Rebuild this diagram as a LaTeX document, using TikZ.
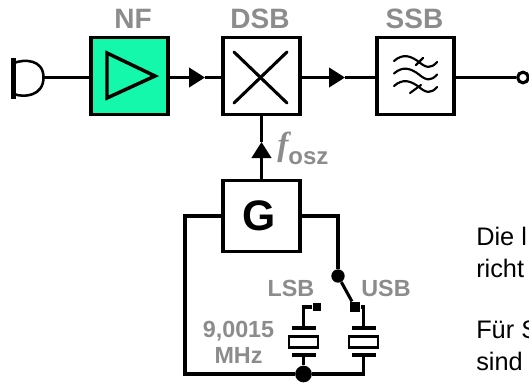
\documentclass[tikz,border=0pt]{standalone}
\usepackage{fontspec}
\setmainfont{Liberation Sans}
\newfontfamily\fserif{Liberation Serif}
\usetikzlibrary{arrows.meta, positioning}

\definecolor{nfgreen}{HTML}{14F8AC}
\definecolor{labelgray}{HTML}{8C8C8C}

\tikzset{
  wire/.style={line width=2.3pt},
  thinwire/.style={line width=1.9pt},
  headwire/.style={wire, -{Triangle[length=12pt, width=14.5pt]}},
  blockbox/.style={draw, line width=2.6pt, minimum width=57.5pt, minimum height=57.5pt, inner sep=0pt},
  grayfont/.style={text=labelgray, font=\bfseries\fontsize{21}{21}\selectfont, inner sep=0pt},
  smallgray/.style={text=labelgray, font=\bfseries\fontsize{17.5}{19.5}\selectfont, inner sep=0pt, align=center},
  bodytext/.style={font=\fontsize{19}{19}\selectfont, anchor=base west, inner sep=0pt},
  crystalbox/.style={draw, line width=1.9pt, minimum width=21.5pt, minimum height=8.5pt, inner sep=0pt},
  contact/.style={circle, fill, inner sep=0pt, minimum size=10pt},
  wave/.style={line width=1.6pt, line cap=round},
}

\begin{document}
\begin{tikzpicture}[x=0.75pt, y=-0.75pt]
  \useasboundingbox (0,0) rectangle (529,386);

  % Blocks of the upper chain
  \node[blockbox, fill=nfgreen] (nf) at (129.5,76) {};
  \node[blockbox] (dsb) at (261.5,76) {};
  \node[blockbox] (ssb) at (415.5,76) {};
  \node[blockbox, minimum height=53pt] (gen) at (261.5,216) {\hspace{-3pt}\bfseries\fontsize{32}{32}\selectfont G};

  \node[grayfont] (nflabel) at (133,19) {NF};
  \node[grayfont] (dsblabel) at (260,19) {DSB};
  \node[grayfont] (ssblabel) at (414.5,19) {SSB};

  % Microphone
  \coordinate (mic) at (43.5,77.5);
  \draw[line width=3.2pt] (13.5,58) -- (13.5,99);
  \draw[line width=1.9pt] (14,63) .. controls (24,59) and (43.5,59) .. (mic) .. controls (43.5,96) and (24,98) .. (14,94);
  \draw[thinwire] (mic) -- (mic -| nf.west);

  % Amplifier, mixer and filter symbols
  \draw[line width=2.6pt, line join=miter] (107,53) -- (155,76) -- (107,98) -- cycle;
  \draw[line width=2.3pt, line cap=round] (234,52) -- (287,103);
  \draw[line width=2.3pt, line cap=round] (234,103) -- (287,52);
  \foreach \dy in {0,12.5,25} {
    \draw[wave] (394,{61+\dy}) .. controls (403,{53+\dy}) and (411,{56+\dy}) .. (419,{62+\dy})
      .. controls (426,{68+\dy}) and (431,{69+\dy}) .. (437,{62+\dy});
  }
  \draw[wave] (416,65) -- (423,58);
  \draw[wave] (410,93) -- (421,85);

  % Connections of the chain
  \coordinate (tipa) at (205,77.5);
  \coordinate (tipb) at (345,77.5);
  \coordinate (tipc) at (261.5,142);
  \draw[headwire] (nf.east |- tipa) -- (tipa);
  \draw[wire] (tipa) -- (tipa -| dsb.west);
  \draw[headwire] (dsb.east |- tipb) -- (tipb);
  \draw[wire] (tipb) -- (tipb -| ssb.west);
  \draw[headwire] (gen.north) -- (tipc);
  \draw[wire] (tipc) -- (dsb.south);
  \node[circle, draw, line width=2.3pt, inner sep=0pt, minimum size=8pt] (out) at (523,77.5) {};
  \draw[wire] (ssb.east |- out) -- (out);

  \node[anchor=base west, inner sep=0pt, text=labelgray] (fosz) at (277,155) {\fserif\itshape\bfseries\fontsize{25}{25}\selectfont f\raisebox{-7pt}{\normalfont\bfseries\fontsize{18}{18}\selectfont osz}};

  % Crystals
  \node[crystalbox] (lsbxtal) at (303.5,342) {};
  \node[crystalbox] (usbxtal) at (363.5,342) {};
  \foreach \xname/\xx in {lsbtop/303.5, usbtop/363.5} {
    \coordinate (\xname) at (\xx,328);
    \draw[wire] (\xx-12,328) -- (\xx+12,328);
    \draw[wire] (\xx-12,355) -- (\xx+12,355);
  }

  % Switch and oscillator loop
  \node[contact] (swtop) at (338,276) {};
  \node[contact, rectangle, minimum size=8pt] (swusb) at (355,307) {};
  \node[rectangle, fill, inner sep=0pt, minimum size=6.5pt] (swlsb) at (317,307) {};
  \node[contact, minimum size=12.5pt] (junction) at (303.5,374) {};
  \coordinate (lsbbot) at (303.5,355);
  \coordinate (usbbot) at (363.5,355);

  \draw[wire] (gen.east) -| (swtop);
  \draw[wire] (gen.west) -- (185,216) |- (junction);
  \draw[wire] (swtop) -- (swusb);
  \draw[wire] (swusb) -| (usbtop);
  \draw[wire] (swlsb) -| (lsbtop);
  \draw[wire] (junction) -- (lsbbot);
  \draw[wire] (junction) -| (usbbot);

  \node[smallgray] (lsblabel) at (291,288) {LSB};
  \node[smallgray] (usblabel) at (386,288) {USB};
  \node[smallgray] (freqlabel) at (238.5,342) {9,0015\\MHz};

  % Cut-off text on the right
  \node[bodytext] (linea) at (476,245) {Die l};
  \node[bodytext] (lineb) at (476,277) {richt};
  \node[bodytext] (linec) at (476,338) {Für S};
  \node[bodytext] (lined) at (476,370) {sind};
\end{tikzpicture}
\end{document}
